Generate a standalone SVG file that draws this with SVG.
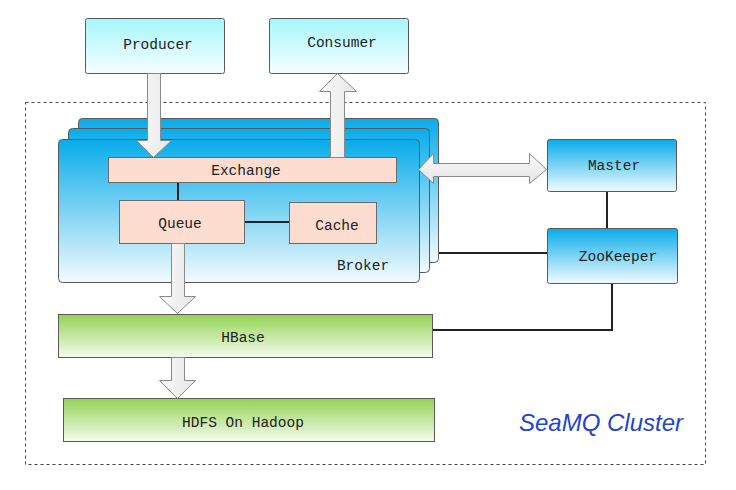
<svg xmlns="http://www.w3.org/2000/svg" width="736" height="490" viewBox="0 0 736 490">
<defs>
<linearGradient id="gBlue" x1="0" y1="0" x2="0" y2="1"><stop offset="0" stop-color="#08ACEA"/><stop offset="1" stop-color="#F2FBFE"/></linearGradient>
<linearGradient id="gCyan" x1="0" y1="0" x2="0" y2="1"><stop offset="0" stop-color="#A6F6FB"/><stop offset="1" stop-color="#F5FEFF"/></linearGradient>
<linearGradient id="gGreen" x1="0" y1="0" x2="0" y2="1"><stop offset="0" stop-color="#93D353"/><stop offset="1" stop-color="#F5FBEF"/></linearGradient>
<linearGradient id="gArrowV" x1="0" y1="0" x2="1" y2="0"><stop offset="0" stop-color="#FAFAFA"/><stop offset="1" stop-color="#E6E6E6"/></linearGradient>
<linearGradient id="gArrowH" x1="0" y1="0" x2="0" y2="1"><stop offset="0" stop-color="#FAFAFA"/><stop offset="1" stop-color="#E4E4E4"/></linearGradient>
</defs>
<style>
.t{font-family:"Liberation Mono","DejaVu Sans Mono",monospace;font-size:14.5px;fill:#222;text-anchor:middle}
.box{stroke:#5a5a5a;stroke-width:1}
.pink{fill:#FCDDD0;stroke:#6a6a6a;stroke-width:1}
.arr{stroke:#8a8a8a;stroke-width:1}
.ln{stroke:#222;stroke-width:2;fill:none}
</style>
<rect x="25.5" y="102.5" width="680" height="362" fill="none" stroke="#444" stroke-width="1" stroke-dasharray="3,3"/>
<text x="601" y="431" font-family="Liberation Sans,Arial,sans-serif" font-style="italic" font-size="24" fill="#1E44D6" text-anchor="middle">SeaMQ Cluster</text>
<g id="producer"><rect class="box" x="85.5" y="18.5" width="139" height="55" rx="2" fill="url(#gCyan)"/><text class="t" x="158" y="49">Producer</text></g>
<g id="consumer"><rect class="box" x="269.5" y="18.5" width="139" height="55" rx="2" fill="url(#gCyan)"/><text class="t" x="342" y="47">Consumer</text></g>
<g id="broker">
<rect class="box" x="78.5" y="118.5" width="360" height="144" rx="4" fill="url(#gBlue)"/>
<rect class="box" x="68.5" y="128.5" width="361" height="144" rx="4" fill="url(#gBlue)"/>
<rect class="box" x="58.5" y="139.5" width="361" height="143" rx="4" fill="url(#gBlue)"/>
<text class="t" x="363" y="270">Broker</text>
</g>
<g id="exchange"><rect class="pink" x="108.5" y="157.5" width="288" height="25"/><text class="t" x="246" y="175">Exchange</text></g>
<g id="queue"><rect class="pink" x="119.5" y="200.5" width="125" height="43"/><text class="t" x="180" y="228">Queue</text></g>
<g id="cache"><rect class="pink" x="289.5" y="202.5" width="87" height="41"/><text class="t" x="337" y="230">Cache</text></g>
<g id="master"><rect class="box" x="547.5" y="139.5" width="129" height="52" rx="2" fill="url(#gBlue)"/><text class="t" x="614" y="170">Master</text></g>
<g id="zookeeper"><rect class="box" x="547.5" y="228.5" width="130" height="55" rx="2" fill="url(#gBlue)"/><text class="t" x="618" y="261">ZooKeeper</text></g>
<g id="hbase"><rect class="box" x="58.5" y="314.5" width="374" height="43" fill="url(#gGreen)"/><text class="t" x="243" y="342">HBase</text></g>
<g id="hdfs"><rect class="box" x="63.5" y="398.5" width="371" height="43" fill="url(#gGreen)"/><text class="t" x="243" y="427">HDFS On Hadoop</text></g>
<g id="connectors">
<path class="ln" d="M439 253H547"/>
<path class="ln" d="M607 192V228"/>
<path class="ln" d="M612 284V330H433"/>
<path class="ln" d="M178 183V200"/>
<path class="ln" d="M245 222H289"/>
</g>
<g id="arrows">
<path class="arr" fill="url(#gArrowV)" d="M147.5 73.5H160.5V140.5H171.5L153.5 157.5L136.5 140.5H147.5Z"/>
<path class="arr" fill="url(#gArrowV)" d="M330.5 157.5V91.5H319.5L337.5 73.5L356.5 91.5H344.5V157.5Z"/>
<path class="arr" fill="url(#gArrowV)" d="M171.5 243.5H184.5V296.5H195.5L177.5 313.5L159.5 296.5H171.5Z"/>
<path class="arr" fill="url(#gArrowV)" d="M171.5 357.5H184.5V380.5H195.5L177.5 398.5L159.5 380.5H171.5Z"/>
<path class="arr" fill="url(#gArrowH)" d="M418.5 169.5L433.5 153.5V163.5H529.5V153.5L546.5 169.5L529.5 183.5V176.5H433.5V183.5Z"/>
</g>
</svg>
